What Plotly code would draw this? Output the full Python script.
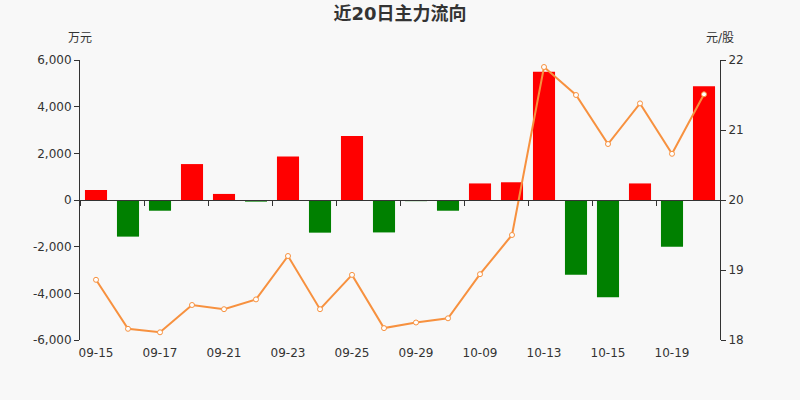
import plotly.graph_objects as go

dates = ["09-15", "09-16", "09-17", "09-18", "09-21", "09-22", "09-23", "09-24", "09-25", "09-28",
         "09-29", "09-30", "10-09", "10-12", "10-13", "10-14", "10-15", "10-16", "10-19", "10-20"]
flow = [430, -1570, -460, 1540, 260, -70, 1860, -1400, 2740, -1390,
        -50, -460, 710, 760, 5500, -3200, -4170, 710, -2000, 4870]
price = [18.86, 18.16, 18.11, 18.50, 18.44, 18.58, 19.20, 18.44, 18.93, 18.17,
         18.25, 18.31, 18.94, 19.50, 21.90, 21.50, 20.80, 21.38, 20.66, 21.51]
tick_labels = dates[::2]
flow_ticks = [-6000, -4000, -2000, 0, 2000, 4000, 6000]
flow_tick_text = ["-6,000", "-4,000", "-2,000", "0", "2,000", "4,000", "6,000"]
price_ticks = [18, 19, 20, 21, 22]

FONT = "DejaVu Sans, Noto Sans CJK SC, sans-serif"
TXT = "#333333"

bar_colors = ["#ff0000" if v >= 0 else "#008000" for v in flow]
idx = list(range(len(dates)))

fig = go.Figure()
fig.add_trace(go.Bar(x=idx, y=flow, marker=dict(color=bar_colors, line=dict(width=0)),
                     width=0.69, xaxis="x", yaxis="y", hoverinfo="skip"))
fig.add_trace(go.Scatter(x=idx, y=price, mode="lines+markers", xaxis="x", yaxis="y2",
                         line=dict(color="#f7913f", width=2),
                         marker=dict(symbol="circle", size=5, color="white",
                                     line=dict(color="#f7913f", width=1)),
                         hoverinfo="skip"))
fig.add_trace(go.Scatter(x=[0], y=[0], xaxis="x2", yaxis="y", mode="markers",
                         marker=dict(opacity=0), hoverinfo="skip"))

fig.update_layout(
    width=800, height=400,
    margin=dict(l=80, r=80, t=60, b=60),
    paper_bgcolor="#f8f8f8", plot_bgcolor="#f8f8f8",
    showlegend=False,
    hovermode=False,
    font=dict(family=FONT, color=TXT, size=12),
    title=dict(text="<b>近20日主力流向</b>", x=0.5, xanchor="center", y=0.965, yanchor="middle",
               font=dict(family=FONT, size=18, color=TXT)),
    xaxis=dict(range=[-0.5, len(dates) - 0.5], tickmode="array",
               tickvals=idx[::2], ticktext=tick_labels, showgrid=False, zeroline=False,
               showline=False, ticks="", ticklabelstandoff=4, tickfont=dict(size=12, color=TXT)),
    xaxis2=dict(range=[-0.5, len(dates) - 0.5], overlaying="x", anchor="free", position=0.5,
                side="bottom", showgrid=False, zeroline=False, showline=True, linecolor=TXT,
                linewidth=1, ticks="outside", ticklen=5, tickcolor=TXT, tick0=-0.5, dtick=2,
                showticklabels=False),
    yaxis=dict(range=[-6000, 6000], tickmode="array", tickvals=flow_ticks, ticktext=flow_tick_text,
               showgrid=False, zeroline=False,
               showline=True, linecolor=TXT, linewidth=1, ticks="outside", ticklen=5, tickcolor=TXT,
               tickfont=dict(size=12, color=TXT)),
    yaxis2=dict(range=[18, 22], tickmode="array", tickvals=price_ticks, overlaying="y", side="right",
                showgrid=False, zeroline=False,
                showline=True, linecolor=TXT, linewidth=1, ticks="outside", ticklen=5, tickcolor=TXT,
                tickfont=dict(size=12, color=TXT)),
    annotations=[
        dict(text="万元", xref="paper", yref="paper", x=0, y=1.0, yshift=22, xanchor="center",
             yanchor="middle", showarrow=False, font=dict(size=12, color=TXT)),
        dict(text="元/股", xref="paper", yref="paper", x=1, y=1.0, yshift=22, xanchor="center",
             yanchor="middle", showarrow=False, font=dict(size=12, color=TXT)),
    ],
)

fig.write_html("out.html", config={"displayModeBar": False, "staticPlot": True},
               post_script="document.body.style.margin='0';")
